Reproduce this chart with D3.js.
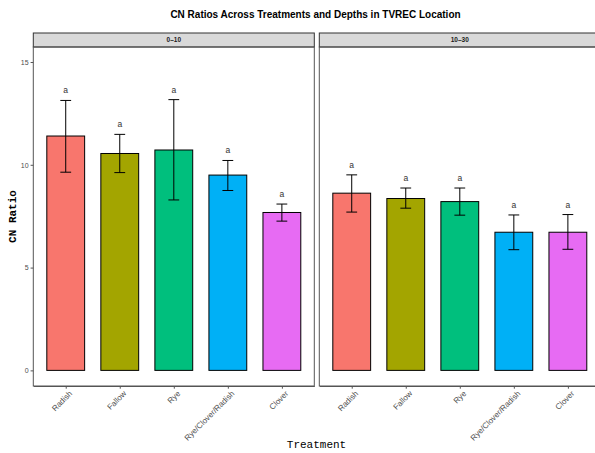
<!DOCTYPE html>
<html>
<head>
<meta charset="utf-8">
<script src="https://cdn.jsdelivr.net/npm/d3@7"></script>
<style>
  body { margin: 0; background: #fff; }
  svg { display: block; font-family: "Liberation Sans", Arial, sans-serif; }
</style>
</head>
<body>
<svg id="chart" width="595" height="453"></svg>
<script>
const treatments = ["Radish", "Fallow", "Rye", "Rye/Clover/Radish", "Clover"];
const depths = ["0\u201310", "10\u201330"];
const colors = ["#F8766D", "#A3A500", "#00BF7D", "#00B0F6", "#E76BF3"];

// mean CN ratio and error bar ends per depth
const means = [
    [11.40, 10.55, 10.72, 9.50, 7.68],
    [8.62, 8.36, 8.21, 6.72, 6.72]
];
const lower = [
    [9.64, 9.62, 8.29, 8.75, 7.26],
    [7.70, 7.89, 7.55, 5.87, 5.89]
];
const upper = [
    [13.13, 11.48, 13.17, 10.21, 8.09],
    [9.51, 8.87, 8.87, 7.56, 7.58]
];
const letters = [
    ["a", "a", "a", "a", "a"],
    ["a", "a", "a", "a", "a"]
];
const yTicks = [0, 5, 10, 15];

const svg = d3.select("#chart");

const panelW = 281;
const panelTop = 47, panelBottom = 386;
const stripTop = 33;
const panelLefts = [33.3, 319.3];

const x = d3.scalePoint()
    .domain(treatments)
    .range([0, panelW])
    .padding(0.6);
const step = x.step();
const barW = step * 0.7;
const capW = step * 0.2;

const y = d3.scaleLinear()
    .domain([-0.76, 15.73])
    .range([panelBottom, panelTop]);

// title
svg.append("text")
    .attr("x", 315.5)
    .attr("y", 17.5)
    .attr("text-anchor", "middle")
    .style("font-weight", "bold")
    .style("font-size", "10px")
    .attr("fill", "#000")
    .text("CN Ratios Across Treatments and Depths in TVREC Location");

depths.forEach((depth, p) => {
    const g = svg.append("g").attr("transform", `translate(${panelLefts[p]},0)`);

    // strip
    g.append("rect")
        .attr("x", 0).attr("y", stripTop)
        .attr("width", panelW).attr("height", panelTop - stripTop)
        .attr("fill", "#d9d9d9")
        .attr("stroke", "#333").attr("stroke-width", 1);
    g.append("text")
        .attr("x", panelW / 2).attr("y", (stripTop + panelTop) / 2)
        .attr("dy", "0.35em")
        .attr("text-anchor", "middle")
        .style("font-size", "6.5px").style("font-weight", "bold")
        .attr("fill", "#1a1a1a")
        .text(depth);

    // panel border
    g.append("rect")
        .attr("x", 0).attr("y", panelTop)
        .attr("width", panelW).attr("height", panelBottom - panelTop)
        .attr("fill", "none")
        .attr("stroke", "#555").attr("stroke-width", 1);

    const rows = treatments.map((t, i) => ({
        t, color: colors[i], mean: means[p][i], lo: lower[p][i], hi: upper[p][i], letter: letters[p][i]
    }));

    g.selectAll("rect.bar")
        .data(rows)
        .enter().append("rect")
        .attr("class", "bar")
        .attr("x", d => x(d.t) - barW / 2)
        .attr("y", d => y(d.mean))
        .attr("width", barW)
        .attr("height", d => y(0) - y(d.mean))
        .attr("fill", d => d.color)
        .attr("stroke", "#000").attr("stroke-width", 1);

    const err = g.selectAll("g.err")
        .data(rows)
        .enter().append("g").attr("class", "err")
        .attr("stroke", "#000").attr("stroke-width", 1);
    err.append("line")
        .attr("x1", d => x(d.t)).attr("x2", d => x(d.t))
        .attr("y1", d => y(d.lo)).attr("y2", d => y(d.hi));
    err.append("line")
        .attr("x1", d => x(d.t) - capW / 2).attr("x2", d => x(d.t) + capW / 2)
        .attr("y1", d => y(d.hi)).attr("y2", d => y(d.hi));
    err.append("line")
        .attr("x1", d => x(d.t) - capW / 2).attr("x2", d => x(d.t) + capW / 2)
        .attr("y1", d => y(d.lo)).attr("y2", d => y(d.lo));

    g.selectAll("text.letter")
        .data(rows)
        .enter().append("text")
        .attr("class", "letter")
        .attr("x", d => x(d.t))
        .attr("y", d => y(d.hi) - 7)
        .attr("text-anchor", "middle")
        .style("font-size", "8.5px")
        .attr("fill", "#333")
        .text(d => d.letter);

    // x axis
    const xAxis = g.append("g")
        .attr("transform", `translate(0,${panelBottom})`)
        .call(d3.axisBottom(x).tickSize(2.7).tickSizeOuter(0));
    xAxis.select(".domain").attr("stroke", "#555");
    xAxis.selectAll(".tick line").attr("stroke", "#555");
    xAxis.selectAll(".tick text")
        .attr("fill", "#4d4d4d")
        .style("font-size", "8px")
        .style("font-family", "'Liberation Sans', Arial, sans-serif")
        .attr("text-anchor", "end")
        .attr("transform", "translate(2.5,4) rotate(-45)")
        .attr("x", 0).attr("y", 0).attr("dy", "0.71em");

    // y axis (left panel only)
    if (p === 0) {
        const yAxis = g.append("g")
            .call(d3.axisLeft(y).tickValues(yTicks).tickSize(2.7).tickPadding(2));
        yAxis.select(".domain").remove();
        yAxis.selectAll(".tick line").attr("stroke", "#555");
        yAxis.selectAll(".tick text")
            .attr("fill", "#4d4d4d")
            .style("font-size", "7px")
            .style("font-family", "'Liberation Sans', Arial, sans-serif");
    }
});

// axis titles
svg.append("text")
    .attr("transform", `translate(16,${(panelTop + panelBottom) / 2}) rotate(-90)`)
    .attr("text-anchor", "middle")
    .style("font-family", "'Liberation Mono', 'Courier New', monospace")
    .style("font-size", "11px").style("font-weight", "bold")
    .attr("fill", "#000")
    .text("CN Ratio");

svg.append("text")
    .attr("x", 316.5)
    .attr("y", 448)
    .attr("text-anchor", "middle")
    .style("font-family", "'Liberation Mono', 'Courier New', monospace")
    .style("font-size", "11px")
    .attr("fill", "#000")
    .text("Treatment");
</script>
</body>
</html>
